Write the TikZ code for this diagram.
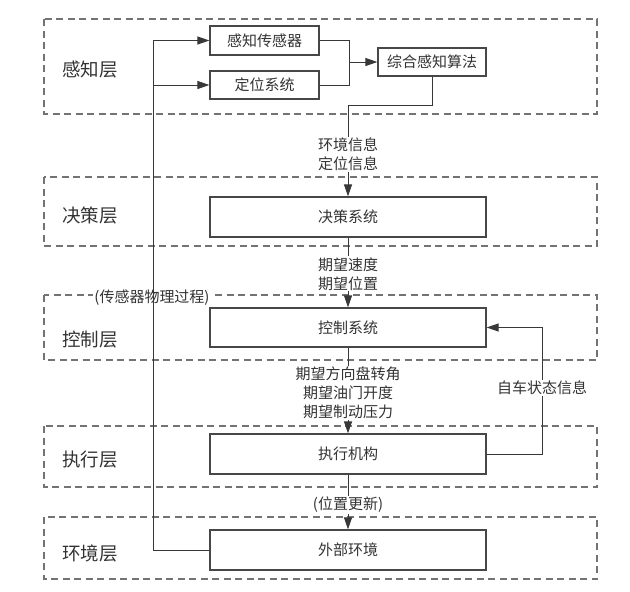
\documentclass[tikz,border=0pt]{standalone}
\usepackage{fontspec}
\setmainfont{Noto Sans CJK SC}
\usetikzlibrary{arrows.meta}

\tikzset{
  layer/.style={draw=black!55, dash pattern=on 7pt off 4.5pt, line width=1.1pt},
  unit/.style={draw=black!72, line width=1.2pt, minimum width=276pt, minimum height=40pt,
    inner sep=0pt, text=black!80, font=\fontsize{15}{17}\selectfont},
  small unit/.style={unit, minimum width=109pt, minimum height=29pt},
  layername/.style={text=black!80, font=\fontsize{18.5}{20}\selectfont},
  flow/.style={draw=black!78, line width=1pt, -{Triangle[length=12pt,width=8pt]}},
  wire/.style={draw=black!78, line width=1pt},
  tag/.style={fill=white, inner sep=1pt, align=center, text=black!80,
    font=\fontsize{15}{19}\selectfont}
}

\begin{document}
\begin{tikzpicture}[x=1pt, y=-1pt]
  \useasboundingbox (0,0) rectangle (630,592);
  % layers
  \draw[layer] (44,19) rectangle (597,114);     % perception
  \draw[layer] (44,177) rectangle (597,246);    % decision
  \draw[layer] (44,295) rectangle (597,360);    % control
  \draw[layer] (44,426) rectangle (597,487);    % execution
  \draw[layer] (44,517) rectangle (597,579);    % environment
  \node[layername] (percep) at (90,70)  {感知层};
  \node[layername] (decis)  at (90,216) {决策层};
  \node[layername] (contr)  at (90,340) {控制层};
  \node[layername] (execu)  at (90,460) {执行层};
  \node[layername] (envir)  at (90,553) {环境层};
  \node[tag] (physics) at (152,298) {(传感器物理过程)};
  % units
  \node[small unit] (sensor) at (264.5,40.5) {感知传感器};
  \node[small unit, minimum height=28pt] (locate) at (264.5,85) {定位系统};
  \node[small unit, minimum width=108pt, minimum height=28pt] (fusion) at (432,62) {综合感知算法};
  \node[unit] (decide)  at (348,217)   {决策系统};
  \node[unit, minimum height=39pt] (control) at (348,327.5) {控制系统};
  \node[unit] (actuate) at (348,454)   {执行机构};
  \node[unit] (world)   at (348,550)   {外部环境};
  \coordinate (bus)   at (153.5,0);
  \coordinate (merge) at (349,62);
  \coordinate (bend)  at (0,105);
  \coordinate (back)  at (542,0);
  % connectors
  \draw[wire] (sensor.east) -| (merge);
  \draw[wire] (locate.east) -| (merge);
  \draw[flow] (merge) -- (fusion.west);
  \draw[flow] (world.west) -| (bus |- sensor.west) -- (sensor.west);
  \draw[flow] (bus |- locate.west) -- (locate.west);
  \draw[flow] (fusion.south) |- (bend -| decide.north)
    -- node[tag, pos=0.54] {环境信息\\定位信息} (decide.north);
  \draw[flow] (decide.south) -- node[tag, pos=0.52] {期望速度\\期望位置} (control.north);
  \draw[flow] (control.south) -- node[tag, pos=0.53] {期望方向盘转角\\期望油门开度\\期望制动压力} (actuate.north);
  \draw[flow] (actuate.south) -- node[tag, pos=0.55] {(位置更新)} (world.north);
  \draw[flow] (actuate.east) -- (actuate.east -| back)
    -- node[tag, pos=0.52] {自车状态信息} (control.east -| back) -- (control.east);
\end{tikzpicture}
\end{document}
